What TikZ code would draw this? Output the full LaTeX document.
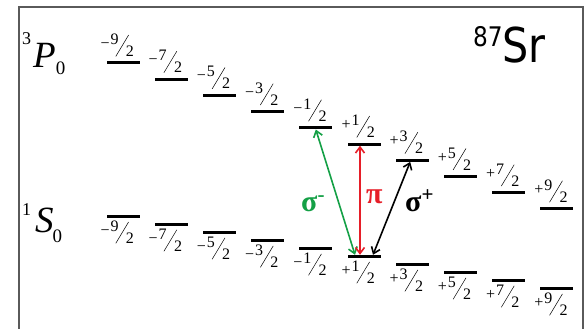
\documentclass[tikz,border=0pt]{standalone}
\usepackage{fontspec}
\setmainfont{Liberation Serif}
\newfontfamily\srfont{DejaVu Sans}
\usepackage{graphicx}
\usetikzlibrary{arrows.meta}
\definecolor{colFrame}{RGB}{90,90,90}
\definecolor{colSigMinus}{RGB}{20,160,70}
\definecolor{colPi}{RGB}{230,30,40}
% magnetic sublevel label, e.g. -9/2
\newcommand{\mfr}[2]{#1\kern1pt\raisebox{4pt}{#2}\kern-3pt\raisebox{-8pt}{\rotatebox{59}{\rule{25pt}{0.5pt}}}\kern-3pt\raisebox{-8pt}{2}}

\begin{document}
\begin{tikzpicture}[x=1pt,y=-1pt,
    every node/.style={inner sep=0pt},
    lvl/.style={fill=black, minimum width=33pt, minimum height=3pt},
    mlab/.style={font=\fontsize{16}{16}\selectfont},
    trans/.style={{Straight Barb[length=6pt,width=9pt]}-{Straight Barb[length=6pt,width=9pt]}, line width=1.6pt},
    pol/.style={font=\fontsize{30}{30}\selectfont\bfseries}
]
    \useasboundingbox (0,0) rectangle (584,329);
    % frame
    \draw[colFrame, line width=1.2pt] (19,329) -- (19,7) -- (583,7) -- (583,329);

    % term symbols
    \node[anchor=base west] (P) at (22,67) {\raisebox{22pt}{\fontsize{18}{18}\selectfont 3}\kern2pt{\fontsize{37}{37}\selectfont\itshape P}\kern0pt\raisebox{-8pt}{\fontsize{19}{19}\selectfont 0}};
    \node[anchor=base west] (S) at (22,232) {\raisebox{17pt}{\fontsize{18}{18}\selectfont 1}\kern4pt{\fontsize{37}{37}\selectfont\itshape S}\kern-1pt\raisebox{-10pt}{\fontsize{19}{19}\selectfont 0}};
    \node[anchor=base west] (iso) at (473,63) {\srfont\scalebox{0.86}[1]{\raisebox{16pt}{\fontsize{27}{27}\selectfont 87}\fontsize{48}{48}\selectfont Sr}};

    % Zeeman sublevels of 3P0 (e) and 1S0 (g)
    \foreach \i/\s/\n in {0/−/9,1/−/7,2/−/5,3/−/3,4/−/1,5/+/1,6/+/3,7/+/5,8/+/7,9/+/9}{
        \node[lvl] (e\i) at ({123+48.2*\i},{63+16.2*\i}) {};
        \node[mlab, anchor=south west] (el\i) at ([xshift=-6pt,yshift=4.5pt]e\i.north west) {\mfr{\s}{\n}};
        \node[lvl] (g\i) at ({123+48.2*\i},{216.5+8*\i}) {};
        \node[mlab, anchor=north west] (gl\i) at ([xshift=-6pt,yshift=-2.5pt]g\i.south west) {\mfr{\s}{\n}};
    }

    % transitions from m=+1/2
    \draw[trans, colSigMinus] ([xshift=-9pt]g5.north) -- (e4.south);
    \draw[trans, colPi] ([xshift=-4pt]g5.north) -- ([xshift=-4pt]e5.south);
    \draw[trans] ([xshift=9pt]g5.north) -- ([xshift=-2pt]e6.south);

    \node[pol, colSigMinus, anchor=base west] (sm) at (301,211) {σ\textsuperscript{-}};
    \node[pol, colPi, anchor=base west] (pi) at (366,203) {π};
    \node[pol, anchor=base west] (sp) at (405,211) {σ\textsuperscript{+}};
\end{tikzpicture}
\end{document}
